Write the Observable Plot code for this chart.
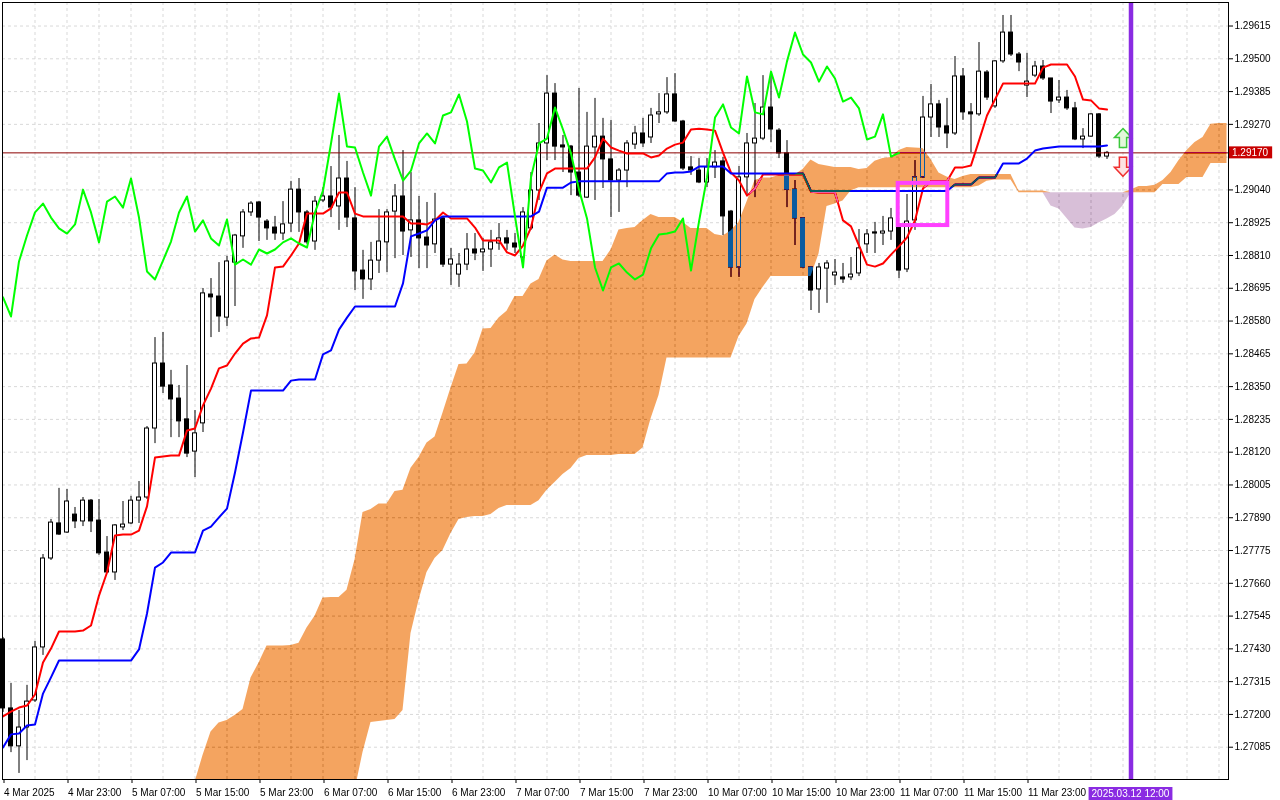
<!DOCTYPE html>
<html>
<head>
<meta charset="utf-8">
<script src="https://cdn.jsdelivr.net/npm/d3@7"></script>
<script src="https://cdn.jsdelivr.net/npm/@observablehq/plot@0.6"></script>
<style>
html, body { margin: 0; padding: 0; background: #ffffff; overflow: hidden; }
#chart svg { display: block; }
</style>
</head>
<body>
<div id="chart"></div>
<script>
// ---- H1 candles (bar index 0 = 4 Mar 2025 15:00) ----
const open = [1.27463,1.27221,1.27088,1.27154,1.27249,1.27435,1.27747,1.27870,1.27838,1.27901,
1.27877,1.27950,1.27880,1.27768,1.27698,1.27856,1.27870,1.27950,1.27961,1.28203,
1.28431,1.28354,1.28308,1.28235,1.28122,1.28221,1.28673,1.28666,1.28592,1.28785,
1.28877,1.28961,1.28996,1.28929,1.28908,1.28887,1.28922,1.29041,1.28961,1.28859,
1.29003,1.29017,1.28982,1.29080,1.28940,1.28757,1.28726,1.28792,1.28856,1.28964,
1.29017,1.28898,1.28933,1.28873,1.28849,1.28940,1.28778,1.28743,1.28778,1.28831,
1.28821,1.28831,1.28852,1.28870,1.28852,1.28803,1.28905,1.29038,1.29203,1.29378,
1.29196,1.29192,1.29101,1.29013,1.29189,1.29227,1.29147,1.29073,1.29108,1.29199,
1.29238,1.29224,1.29305,1.29312,1.29375,1.29280,1.29119,1.29108,1.29066,1.29119,
1.29140,1.28964,1.28768,1.29084,1.29203,1.29220,1.29329,1.29248,1.29168,1.29041,
1.28940,1.28768,1.28691,1.28764,1.28740,1.28733,1.28733,1.28747,1.28849,1.28891,
1.28887,1.28894,1.28908,1.28761,1.28933,1.29084,1.29294,1.29340,1.29263,1.29238,
1.29438,1.29312,1.29305,1.29452,1.29333,1.29491,1.29592,1.29515,1.29406,1.29441,
1.29473,1.29431,1.29354,1.29364,1.29326,1.29217,1.29227,1.29305,1.29157];
const high = [1.27470,1.27309,1.27214,1.27302,1.27456,1.27761,1.27884,1.27993,1.27989,1.27926,
1.27961,1.27954,1.27954,1.27824,1.27866,1.27947,1.27965,1.28017,1.28210,1.28522,
1.28540,1.28407,1.28354,1.28424,1.28266,1.28694,1.28729,1.28785,1.28807,1.28884,
1.28971,1.28999,1.28999,1.28936,1.28947,1.28999,1.29070,1.29080,1.28968,1.29017,
1.29048,1.29122,1.29231,1.29140,1.29048,1.28828,1.28856,1.28971,1.28971,1.29059,
1.29178,1.29101,1.29017,1.28996,1.29028,1.28943,1.28835,1.28817,1.28887,1.28887,
1.28870,1.28898,1.28922,1.28898,1.28887,1.28978,1.29101,1.29273,1.29441,1.29413,
1.29231,1.29196,1.29396,1.29312,1.29361,1.29291,1.29284,1.29115,1.29213,1.29263,
1.29291,1.29326,1.29378,1.29434,1.29448,1.29284,1.29157,1.29150,1.29150,1.29178,
1.29154,1.28968,1.29122,1.29238,1.29343,1.29441,1.29451,1.29255,1.29213,1.29073,
1.28943,1.28771,1.28782,1.28792,1.28796,1.28782,1.28803,1.28901,1.28901,1.28926,
1.28947,1.28975,1.28915,1.29024,1.29143,1.29368,1.29410,1.29354,1.29361,1.29508,
1.29466,1.29343,1.29557,1.29459,1.29494,1.29652,1.29652,1.29522,1.29519,1.29491,
1.29494,1.29431,1.29424,1.29389,1.29347,1.29255,1.29308,1.29308,1.29175];
const low = [1.27207,1.27066,1.26993,1.27038,1.27242,1.27407,1.27740,1.27828,1.27835,1.27852,
1.27859,1.27838,1.27758,1.27694,1.27670,1.27845,1.27866,1.27870,1.27954,1.28150,
1.28326,1.28171,1.28171,1.28101,1.28031,1.28189,1.28522,1.28540,1.28561,1.28631,
1.28835,1.28947,1.28859,1.28863,1.28863,1.28863,1.28891,1.28891,1.28849,1.28828,
1.28996,1.28943,1.28898,1.28908,1.28687,1.28656,1.28687,1.28747,1.28750,1.28799,
1.28810,1.28803,1.28764,1.28764,1.28817,1.28768,1.28705,1.28698,1.28757,1.28792,
1.28754,1.28768,1.28828,1.28828,1.28817,1.28768,1.28898,1.29003,1.29143,1.29143,
1.29101,1.29020,1.29013,1.29010,1.29003,1.29045,1.28943,1.28961,1.29048,1.29182,
1.29189,1.29203,1.29273,1.29305,1.29277,1.29108,1.29091,1.29062,1.29048,1.29080,
1.28880,1.28733,1.28733,1.29017,1.29013,1.29213,1.29206,1.29150,1.28978,1.28845,
1.28764,1.28617,1.28607,1.28642,1.28705,1.28712,1.28722,1.28736,1.28817,1.28817,
1.28845,1.28863,1.28729,1.28750,1.28898,1.29080,1.29224,1.29224,1.29185,1.29231,
1.29284,1.29171,1.29298,1.29354,1.29326,1.29484,1.29508,1.29455,1.29364,1.29434,
1.29424,1.29308,1.29343,1.29319,1.29213,1.29185,1.29224,1.29150,1.29147];
const close = [1.27221,1.27088,1.27154,1.27245,1.27435,1.27747,1.27873,1.27831,1.27947,1.27877,
1.27950,1.27877,1.27765,1.27698,1.27863,1.27866,1.27950,1.27961,1.28203,1.28431,
1.28350,1.28305,1.28228,1.28115,1.28186,1.28677,1.28663,1.28596,1.28789,1.28880,
1.28961,1.28992,1.28943,1.28905,1.28887,1.28919,1.29041,1.28961,1.28856,1.28999,
1.29017,1.28978,1.29080,1.28943,1.28754,1.28726,1.28792,1.28859,1.28961,1.29017,
1.28894,1.28933,1.28870,1.28845,1.28936,1.28778,1.28796,1.28778,1.28831,1.28817,
1.28831,1.28856,1.28870,1.28852,1.28838,1.28961,1.29038,1.29203,1.29378,1.29192,
1.29189,1.29101,1.29020,1.29192,1.29227,1.29147,1.29073,1.29108,1.29203,1.29238,
1.29203,1.29301,1.29312,1.29375,1.29280,1.29115,1.29108,1.29066,1.29119,1.29136,
1.28947,1.28768,1.29084,1.29203,1.29220,1.29329,1.29252,1.29168,1.29041,1.28940,
1.28768,1.28687,1.28768,1.28782,1.28750,1.28726,1.28743,1.28835,1.28884,1.28887,
1.28894,1.28940,1.28757,1.28929,1.29084,1.29294,1.29340,1.29259,1.29238,1.29438,
1.29312,1.29305,1.29455,1.29364,1.29491,1.29592,1.29515,1.29487,1.29420,1.29473,
1.29431,1.29350,1.29364,1.29326,1.29217,1.29227,1.29305,1.29157,1.29170];

// ---- Ichimoku lines ----
const tenkan = [1.27193,1.27210,1.27224,1.27231,1.27270,1.27382,1.27431,1.27491,1.27491,1.27491,
1.27494,1.27512,1.27617,1.27698,1.27828,1.27831,1.27831,1.27845,1.27930,1.28101,
1.28105,1.28108,1.28108,1.28196,1.28203,1.28284,1.28343,1.28414,1.28424,1.28466,
1.28501,1.28519,1.28522,1.28600,1.28768,1.28771,1.28810,1.28852,1.28957,1.28957,
1.28957,1.28975,1.29031,1.29031,1.28957,1.28947,1.28947,1.28947,1.28947,1.28947,
1.28947,1.28922,1.28922,1.28919,1.28933,1.28961,1.28940,1.28940,1.28940,1.28908,
1.28863,1.28863,1.28863,1.28821,1.28810,1.28845,1.28908,1.29031,1.29098,1.29115,
1.29115,1.29115,1.29115,1.29115,1.29154,1.29220,1.29189,1.29178,1.29168,1.29168,
1.29168,1.29154,1.29161,1.29185,1.29199,1.29206,1.29252,1.29255,1.29252,1.29248,
1.29171,1.29101,1.29073,1.29020,1.29045,1.29094,1.29094,1.29094,1.29094,1.29094,
1.29094,1.29034,1.29031,1.29031,1.29031,1.28933,1.28912,1.28845,1.28778,1.28771,
1.28782,1.28813,1.28842,1.28873,1.28933,1.29045,1.29070,1.29070,1.29070,1.29119,
1.29119,1.29126,1.29213,1.29301,1.29357,1.29413,1.29413,1.29413,1.29413,1.29413,
1.29469,1.29480,1.29480,1.29480,1.29438,1.29357,1.29354,1.29326,1.29322];
const kijun = [1.27084,1.27130,1.27133,1.27161,1.27165,1.27273,1.27330,1.27389,1.27389,1.27389,
1.27389,1.27389,1.27389,1.27389,1.27389,1.27389,1.27389,1.27428,1.27554,1.27715,
1.27733,1.27768,1.27768,1.27768,1.27768,1.27845,1.27859,1.27891,1.27922,1.28049,
1.28189,1.28336,1.28336,1.28336,1.28336,1.28336,1.28371,1.28375,1.28375,1.28375,
1.28463,1.28477,1.28550,1.28592,1.28631,1.28631,1.28631,1.28631,1.28631,1.28631,
1.28712,1.28877,1.28887,1.28898,1.28933,1.28947,1.28947,1.28947,1.28947,1.28947,
1.28947,1.28947,1.28947,1.28947,1.28947,1.28947,1.28947,1.28964,1.29048,1.29048,
1.29048,1.29066,1.29070,1.29070,1.29070,1.29070,1.29070,1.29070,1.29070,1.29070,
1.29070,1.29070,1.29070,1.29098,1.29101,1.29101,1.29105,1.29122,1.29122,1.29122,
1.29122,1.29098,1.29098,1.29098,1.29098,1.29098,1.29098,1.29098,1.29098,1.29098,
1.29098,1.29036,1.29036,1.29036,1.29036,1.29036,1.29036,1.29036,1.29036,1.29036,
1.29036,1.29036,1.29036,1.29036,1.29036,1.29036,1.29036,1.29036,1.29036,1.29059,
1.29059,1.29059,1.29084,1.29084,1.29084,1.29133,1.29133,1.29133,1.29150,1.29178,
1.29185,1.29189,1.29192,1.29192,1.29192,1.29192,1.29192,1.29192,1.29196];

// Senkou spans as plotted (already shifted 26 bars forward), first value at bar 24
const spanStart = 24;
const spanA = [1.26961,1.27056,1.27138,1.27170,1.27179,1.27196,1.27217,1.27328,1.27380,1.27440,
1.27440,1.27440,1.27442,1.27450,1.27503,1.27544,1.27608,1.27610,1.27610,1.27636,
1.27742,1.27908,1.27919,1.27938,1.27938,1.27982,1.27986,1.28064,1.28101,1.28152,
1.28173,1.28257,1.28345,1.28428,1.28429,1.28468,1.28552,1.28554,1.28591,1.28614,
1.28666,1.28666,1.28710,1.28726,1.28791,1.28812,1.28794,1.28789,1.28789,1.28789,
1.28789,1.28789,1.28829,1.28899,1.28905,1.28908,1.28933,1.28954,1.28943,1.28943,
1.28943,1.28927,1.28905,1.28905,1.28905,1.28884,1.28878,1.28896,1.28927,1.28998,
1.29073,1.29082,1.29082,1.29091,1.29092,1.29092,1.29112,1.29145,1.29129,1.29124,
1.29119,1.29119,1.29119,1.29112,1.29115,1.29141,1.29150,1.29154,1.29178,1.29189,
1.29187,1.29185,1.29147,1.29099,1.29085,1.29077,1.29087,1.29094,1.29094,1.29094,
1.29094,1.29094,1.29094,1.29036,1.29036,1.29036,1.29036,1.28984,1.28973,1.28940,
1.28906,1.28903,1.28908,1.28924,1.28938,1.28954,1.28984,1.29040,1.29052,1.29052,
1.29056,1.29073,1.29101,1.29143,1.29178,1.29206,1.29224,1.29270,1.29273,1.29273];
const spanB = [1.26800,1.26800,1.26800,1.26800,1.26800,1.26800,1.26800,1.26800,1.26800,1.26800,
1.26800,1.26800,1.26800,1.26800,1.26800,1.26800,1.26800,1.26800,1.26800,1.26880,
1.26933,1.27066,1.27172,1.27175,1.27179,1.27182,1.27214,1.27484,1.27600,1.27698,
1.27747,1.27775,1.27835,1.27884,1.27891,1.27894,1.27894,1.27901,1.27922,1.27933,
1.27933,1.27933,1.27933,1.27950,1.27986,1.28014,1.28042,1.28063,1.28098,1.28108,
1.28108,1.28108,1.28108,1.28112,1.28112,1.28112,1.28135,1.28236,1.28319,1.28450,
1.28450,1.28450,1.28450,1.28450,1.28450,1.28450,1.28450,1.28450,1.28526,1.28570,
1.28656,1.28698,1.28736,1.28736,1.28736,1.28736,1.28736,1.28736,1.28815,1.28982,
1.28991,1.29001,1.29036,1.29048,1.29048,1.29048,1.29048,1.29048,1.29048,1.29048,
1.29048,1.29048,1.29048,1.29048,1.29048,1.29048,1.29048,1.29048,1.29054,1.29070,
1.29075,1.29075,1.29075,1.29030,1.29030,1.29030,1.29030,1.29030,1.29030,1.29030,
1.29030,1.29030,1.29030,1.29030,1.29030,1.29030,1.29030,1.29030,1.29030,1.29030,
1.29030,1.29059,1.29059,1.29059,1.29084,1.29084,1.29084,1.29133,1.29133,1.29133];

// ---- axes ----
const tickBars = [0,8,16,24,32,40,48,56,64,72,80,88,96,104,112,120,128];
const tickLabels = ["4 Mar 2025","4 Mar 23:00","5 Mar 07:00","5 Mar 15:00","5 Mar 23:00","6 Mar 07:00",
"6 Mar 15:00","6 Mar 23:00","7 Mar 07:00","7 Mar 15:00","7 Mar 23:00","10 Mar 07:00","10 Mar 15:00",
"10 Mar 23:00","11 Mar 07:00","11 Mar 15:00","11 Mar 23:00"];
const priceTicks = [1.29615,1.29500,1.29385,1.29270,1.29155,1.29040,1.28925,1.28810,1.28695,1.28580,
1.28465,1.28350,1.28235,1.28120,1.28005,1.27890,1.27775,1.27660,1.27545,1.27430,1.27315,1.27200,1.27085];

// ---- objects on the chart ----
const bid = 1.29170;
const markerBar = 141;
const markerLabel = "2025.03.12 12:00";
const boxBars = [111.9, 118.1];
const boxPrices = [1.29063, 1.28915];
const arrowBar = 140;
const upArrowPrice = 1.29222;
const downArrowPrice = 1.29121;

// ---- build ----
const candles = open.map((o, i) => ({i, o, h: high[i], l: low[i], c: close[i]}));
const tenkanData = tenkan.map((v, i) => ({i, v}));
const kijunData = kijun.map((v, i) => ({i, v}));
const chikouData = close.slice(26).map((v, i) => ({i, v}));
const cloud = spanA.map((a, j) => ({i: spanStart + j, a, b: spanB[j]}));
const labelMap = new Map(tickBars.map((b, k) => [b, tickLabels[k]]));
const FONT = "'Liberation Sans', Arial, sans-serif";
const grid = "#d9d9d9";

// block-arrow symbols (shape only; size comes from r)
const upArrow = {draw(ctx, size) {
  const r = Math.sqrt(size / Math.PI);
  ctx.moveTo(0, -1.1 * r); ctx.lineTo(r, -0.05 * r); ctx.lineTo(0.42 * r, -0.05 * r);
  ctx.lineTo(0.42 * r, 1.1 * r); ctx.lineTo(-0.42 * r, 1.1 * r); ctx.lineTo(-0.42 * r, -0.05 * r);
  ctx.lineTo(-r, -0.05 * r); ctx.closePath();
}};
const downArrow = {draw(ctx, size) {
  const r = Math.sqrt(size / Math.PI);
  ctx.moveTo(0, 1.1 * r); ctx.lineTo(r, 0.05 * r); ctx.lineTo(0.42 * r, 0.05 * r);
  ctx.lineTo(0.42 * r, -1.1 * r); ctx.lineTo(-0.42 * r, -1.1 * r); ctx.lineTo(-0.42 * r, 0.05 * r);
  ctx.lineTo(-r, 0.05 * r); ctx.closePath();
}};

const plot = Plot.plot({
  width: 1280,
  height: 800,
  marginTop: 2,
  marginLeft: 2,
  marginRight: 52,
  marginBottom: 21,
  x: {type: "linear", domain: [-0.0625, 153.1875], label: null},
  y: {type: "linear", domain: [1.269717, 1.296975], label: null},
  style: {fontFamily: FONT, fontSize: "10px", color: "black", background: "white"},
  marks: [
    Plot.frame({fill: "white", stroke: null}),
    Plot.ruleX(d3.range(4, 153, 4), {stroke: grid, strokeDasharray: "3,3"}),
    Plot.ruleY(priceTicks, {stroke: grid, strokeDasharray: "3,3"}),
    Plot.ruleX(candles, {x: "i", y1: "l", y2: "h", stroke: "black", strokeWidth: 1}),
    Plot.rect(candles.filter(d => d.c >= d.o), {x1: d => d.i - 0.25, x2: d => d.i + 0.25, y1: "o", y2: "c", fill: "white", stroke: "black", strokeWidth: 1}),
    Plot.rect(candles.filter(d => d.c < d.o), {x1: d => d.i - 0.25, x2: d => d.i + 0.25, y1: "o", y2: "c", fill: "black", stroke: "black", strokeWidth: 1}),
    Plot.ruleY([bid], {stroke: "#8b0000", strokeWidth: 1}),
    Plot.line(tenkanData, {x: "i", y: "v", stroke: "#ff0000", strokeWidth: 2}),
    Plot.line(kijunData, {x: "i", y: "v", stroke: "#0000ff", strokeWidth: 2}),
    // cloud drawn with inverted colours and difference blending (MT5 look)
    Plot.areaY(cloud, {x: "i", y1: "b", y2: d => Math.max(d.a, d.b), fill: "#0b5b9f", clip: true}),
    Plot.areaY(cloud, {x: "i", y1: "b", y2: d => Math.min(d.a, d.b), fill: "#274027", clip: true}),
    Plot.line(chikouData, {x: "i", y: "v", stroke: "#00ff00", strokeWidth: 2}),
    Plot.rect([{}], {x1: () => boxBars[0], x2: () => boxBars[1], y1: () => boxPrices[0], y2: () => boxPrices[1], fill: "none", stroke: "#ff40ff", strokeWidth: 4}),
    Plot.dot([upArrowPrice], {x: () => arrowBar, y: d => d, symbol: upArrow, r: 8.6, fill: "#e2f8da", stroke: "#3cc83c", strokeWidth: 1.5}),
    Plot.dot([downArrowPrice], {x: () => arrowBar, y: d => d, symbol: downArrow, r: 8.6, fill: "#fde2e2", stroke: "#f03030", strokeWidth: 1.5}),
    Plot.ruleX([markerBar], {stroke: "#8a2be2", strokeWidth: 4.5}),
    Plot.axisY(priceTicks, {anchor: "right", tickSize: 4, tickPadding: 2, label: null,
      tickFormat: d => Math.abs(d - bid) < 0.0003 ? "" : d.toFixed(5)}),
    Plot.axisX(tickBars, {anchor: "bottom", tickSize: 4, tickPadding: 5, label: null,
      tickFormat: d => labelMap.get(d), textAnchor: "start", dx: 1}),
    Plot.frame({stroke: "black", strokeWidth: 1})
  ]
});

document.getElementById("chart").appendChild(plot);

const svg = d3.select(plot);
svg.selectAll('g[aria-label="area"]').style("mix-blend-mode", "difference");

const xs = plot.scale("x"), ys = plot.scale("y");
const right = xs.range[1];
const bottom = ys.range[0];

// bid price label on the price scale
const by = ys.apply(bid);
const gb = svg.append("g").attr("font-family", FONT).attr("font-size", 10).attr("text-anchor", "start");
const bt = gb.append("text").attr("x", right + 4).attr("y", by).attr("dy", "0.35em")
  .attr("text-anchor", "start").attr("fill", "white").text(bid.toFixed(5));
const bw = bt.node().getComputedTextLength();
gb.insert("rect", "text").attr("x", right + 1).attr("y", by - 6).attr("width", bw + 7)
  .attr("height", 12).attr("fill", "#c80000");

// time label of the vertical marker line
const mx = xs.apply(markerBar);
const gm = svg.append("g").attr("font-family", FONT).attr("font-size", 10);
const mt = gm.append("text").attr("x", mx).attr("y", bottom + 14.5).attr("dy", "0.35em")
  .attr("text-anchor", "middle").attr("fill", "white").text(markerLabel);
const mw = mt.node().getComputedTextLength();
gm.insert("rect", "text").attr("x", mx - mw / 2 - 3).attr("y", bottom + 8).attr("width", mw + 6)
  .attr("height", 13).attr("fill", "#8a2be2");
</script>
</body>
</html>
